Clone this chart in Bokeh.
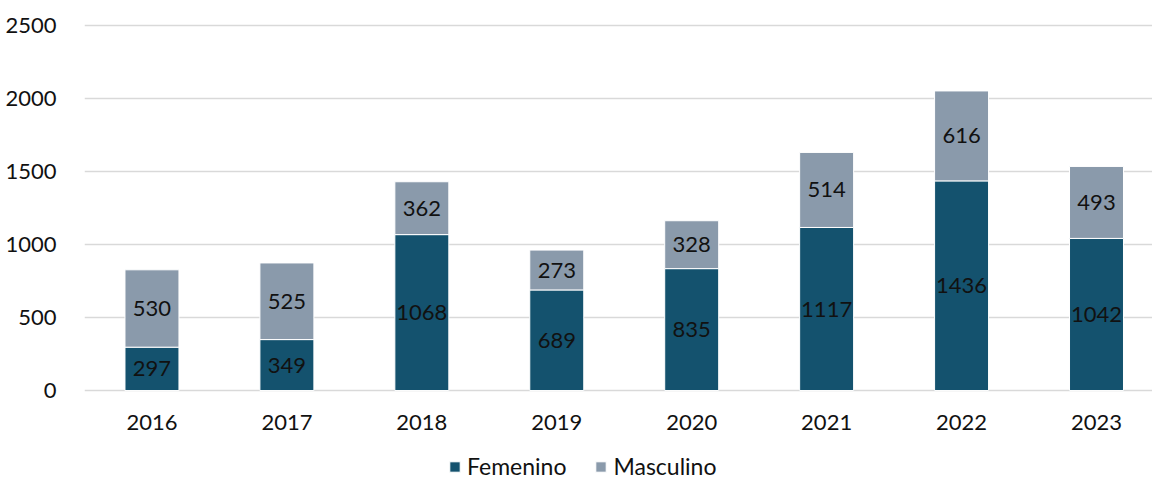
from bokeh.plotting import figure
from bokeh.models import ColumnDataSource, Range1d, FixedTicker, Legend, LegendItem, LabelSet
from bokeh.core.properties import value
from bokeh.embed import file_html
from bokeh.resources import INLINE

years = ["2016", "2017", "2018", "2019", "2020", "2021", "2022", "2023"]
femenino = [297, 349, 1068, 689, 835, 1117, 1436, 1042]
masculino = [530, 525, 362, 273, 328, 514, 616, 493]

FONT = "Lato"
DARK = "#14526e"
GREY = "#8a9aab"

x = list(range(len(years)))
tot = [f + m for f, m in zip(femenino, masculino)]
src = ColumnDataSource(dict(
    x=x, f=femenino, m=masculino, tot=tot,
    fmid=[f / 2 for f in femenino],
    mmid=[f + m / 2 for f, m in zip(femenino, masculino)],
    flab=[str(v) for v in femenino], mlab=[str(v) for v in masculino],
))

# frame extends below zero so that the legend can sit inside it
p = figure(frame_width=1068, frame_height=458, output_backend="svg", toolbar_location=None,
           x_range=Range1d(-0.5, 7.415), y_range=Range1d(-623, 2514),
           min_border_left=84, min_border_right=0, min_border_top=23, min_border_bottom=0)
p.outline_line_color = None

r1 = p.vbar(x="x", bottom=0, top="f", width=0.4, source=src, fill_color=DARK, line_color="white", line_width=1)
r2 = p.vbar(x="x", bottom="f", top="tot", width=0.4, source=src, fill_color=GREY, line_color="white", line_width=1)

for col, ycol in (("flab", "fmid"), ("mlab", "mmid")):
    p.add_layout(LabelSet(x="x", y=ycol, text=col, source=src, text_align="center", text_baseline="middle",
                          text_font=value(FONT), text_font_size="22px", text_color="#111111"))

p.xaxis.ticker = FixedTicker(ticks=x)
p.xaxis.major_label_overrides = {i: y for i, y in enumerate(years)}
p.xaxis.fixed_location = 0
p.yaxis.ticker = FixedTicker(ticks=[0, 500, 1000, 1500, 2000, 2500])
for ax in (p.xaxis[0], p.yaxis[0]):
    ax.axis_line_color = None
    ax.major_tick_line_color = None
    ax.minor_tick_line_color = None
    ax.major_label_text_font = FONT
    ax.major_label_text_font_size = "22px"
    ax.major_label_text_color = "#111111"
p.yaxis.major_label_standoff = 22
p.xaxis.major_label_standoff = 18
p.xgrid.grid_line_color = None
p.ygrid.grid_line_color = "#d9d9d9"
p.ygrid.grid_line_width = 1.5

legend = Legend(items=[LegendItem(label="Femenino", renderers=[r1]), LegendItem(label="Masculino", renderers=[r2])],
                orientation="horizontal", location=(364, 1), border_line_color=None,
                background_fill_alpha=0, label_text_font=FONT, label_text_font_size="23px",
                label_text_color="#111111", glyph_width=13, glyph_height=13, spacing=28, padding=0,
                label_standoff=6, margin=0)
p.add_layout(legend, "center")

open("out.html", "w").write(file_html(p, INLINE))
